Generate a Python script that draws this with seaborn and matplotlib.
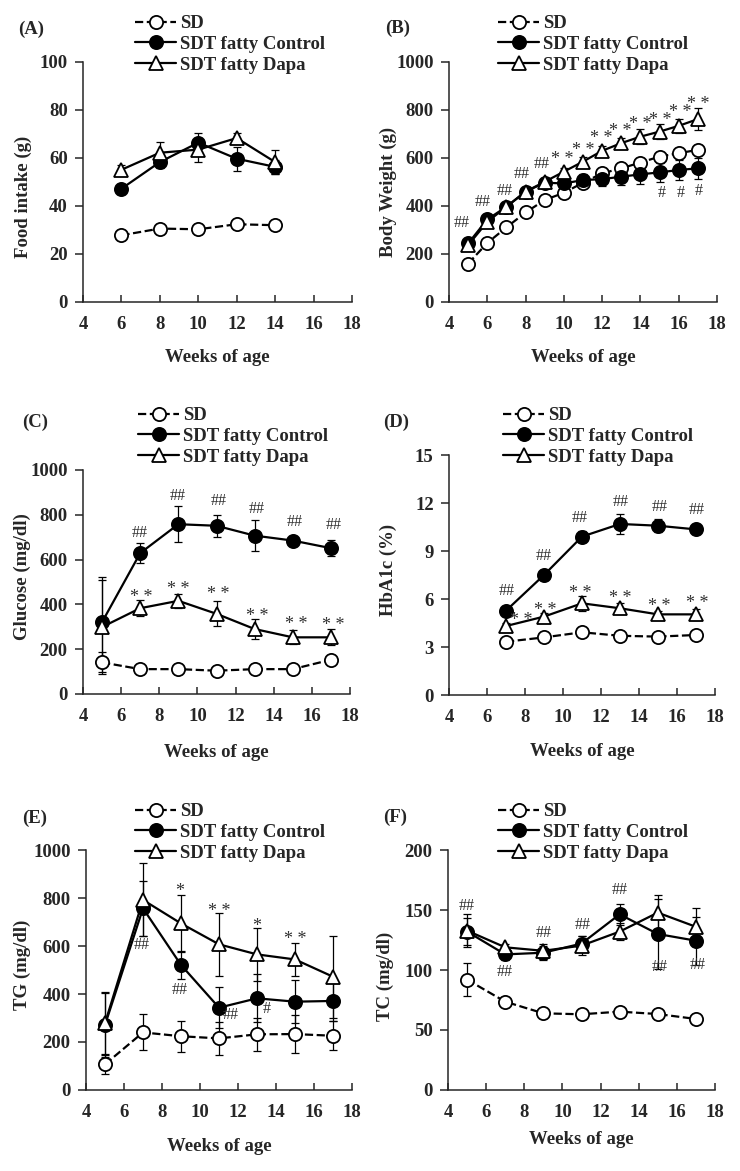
import numpy as np
import pandas as pd
import matplotlib
matplotlib.use("Agg")
import matplotlib.pyplot as plt
import seaborn as sns

# ---------------- data ----------------
groups = ["SD", "SDT fatty Control", "SDT fatty Dapa"]

# (A) Food intake
weeks_a = [6, 8, 10, 12, 14]
food_sd = [27.8, 30.6, 30.3, 32.4, 32.0]
food_ctl = [47.2, 58.3, 66.4, 59.7, 56.3]
food_dapa = [55.1, 62.2, 63.5, 68.3, 58.3]
food_sd_err = [1.5, 1.5, 2, 1.5, 1.5]
food_ctl_err = [2, 2.5, 4, 5, 3]
food_dapa_err = [2, 4.5, 5, 2, 5]

# (B) Body weight
weeks_b = list(range(5, 18))
bw_sd = [160, 246, 311, 373, 425, 455, 497, 536, 557, 581, 606, 620, 634]
bw_ctl = [244, 344, 397, 460, 497, 494, 508, 512, 522, 532, 540, 550, 557]
bw_dapa = [237, 334, 397, 460, 501, 543, 585, 630, 662, 689, 710, 734, 762]
bw_sd_err = [10, 12, 12, 12, 15, 15, 15, 15, 15, 15, 15, 15, 20]
bw_ctl_err = [15, 15, 15, 15, 15, 20, 25, 30, 35, 40, 40, 40, 45]
bw_dapa_err = [10, 12, 12, 15, 15, 15, 20, 20, 20, 30, 30, 30, 45]

# (C) Glucose
weeks_c = [5, 7, 9, 11, 13, 15, 17]
glu_sd = [141, 111, 111, 104, 111, 111, 153]
glu_ctl = [321, 629, 758, 751, 707, 685, 651]
glu_dapa = [299, 383, 416, 358, 290, 253, 253]
glu_sd_err = [45, 15, 12, 10, 12, 12, 15]
glu_ctl_err = [200, 45, 80, 50, 70, 15, 35]
glu_dapa_err = [210, 37, 32, 55, 45, 32, 35]

# (D) HbA1c
weeks_d = [7, 9, 11, 13, 15, 17]
hba_sd = [3.33, 3.6, 3.92, 3.7, 3.65, 3.75]
hba_ctl = [5.27, 7.5, 9.9, 10.69, 10.58, 10.35]
hba_dapa = [4.31, 4.9, 5.73, 5.42, 5.04, 5.04]
hba_sd_err = [0.1, 0.1, 0.15, 0.1, 0.1, 0.1]
hba_ctl_err = [0.2, 0.2, 0.35, 0.6, 0.4, 0.3]
hba_dapa_err = [0.2, 0.2, 0.45, 0.35, 0.2, 0.35]

# (E) TG
weeks_e = [5, 7, 9, 11, 13, 15, 17]
tg_sd = [107, 240, 224, 215, 232, 233, 226]
tg_ctl = [271, 757, 521, 343, 382, 368, 371]
tg_dapa = [278, 792, 694, 607, 565, 544, 472]
tg_sd_err = [40, 75, 65, 70, 70, 80, 60]
tg_ctl_err = [135, 115, 60, 85, 100, 90, 85]
tg_dapa_err = [130, 152, 120, 130, 110, 70, 170]

# (F) TC
weeks_f = [5, 7, 9, 11, 13, 15, 17]
tc_sd = [92, 73.6, 63.9, 63.1, 65.3, 63.3, 59.2]
tc_ctl = [132, 113, 114.4, 122, 146.4, 130, 124.4]
tc_dapa = [132.8, 118.9, 116, 120.3, 132, 147.8, 136]
tc_sd_err = [14, 3, 3, 3, 3, 3, 3]
tc_ctl_err = [11, 5, 6, 6, 9, 29, 20]
tc_dapa_err = [14, 3, 6, 8, 7, 15, 16]

# significance annotations: (text, x, y)
ann_b = [("##", 4.65, 330), ("##", 5.78, 415), ("##", 6.9, 464), ("##", 7.8, 533), ("##", 8.83, 574),
         ("**", 9.93, 622), ("**", 11.0, 662), ("**", 11.94, 710), ("**", 12.97, 738),
         ("**", 13.98, 769), ("**", 15.03, 787), ("**", 16.08, 818), ("**", 17.04, 850),
         ("#", 15.1, 455), ("#", 16.08, 455), ("#", 17.04, 462)]
ann_c = [("##", 6.98, 719), ("##", 8.96, 884), ("##", 11.12, 862), ("##", 13.09, 825),
         ("##", 15.1, 770), ("##", 17.12, 755),
         ("**", 7.04, 461), ("**", 9.02, 498), ("**", 11.07, 477), ("**", 13.14, 376),
         ("**", 15.16, 342), ("**", 17.12, 339)]
ann_d = [("##", 7.02, 6.5), ("##", 8.96, 8.7), ("##", 10.89, 11.08), ("##", 13.03, 12.08),
         ("##", 15.07, 11.77), ("##", 17.04, 11.56),
         ("**", 7.81, 5.06), ("**", 9.04, 5.73), ("**", 10.92, 6.77), ("**", 13.0, 6.46),
         ("**", 15.04, 5.94), ("**", 17.08, 6.15)]
ann_e = [("##", 6.93, 604), ("##", 8.95, 417), ("##", 11.59, 312), ("#", 13.49, 336),
         ("*", 8.95, 858), ("**", 11.01, 771), ("*", 12.99, 711), ("**", 15.0, 656)]
ann_f = [("##", 5.0, 153), ("##", 6.98, 98.6), ("##", 9.02, 131), ("##", 11.04, 137.5),
         ("##", 13.01, 166.7), ("##", 15.11, 102.8), ("##", 17.07, 104)]

# ---------------- style ----------------
sns.set_style("ticks")
plt.rcParams["font.family"] = ["Liberation Serif", "DejaVu Serif"]
plt.rcParams["font.weight"] = "bold"
plt.rcParams["axes.labelweight"] = "bold"

W, H = 740, 1171
fig = plt.figure(figsize=(W / 100, H / 100), dpi=100)

FS = 13.5

# panel specs: pixel boxes (left, top, right, bottom)
panels = [
    dict(tag="(A)", box=(83, 62, 352, 302), ylim=(0, 100), yticks=np.arange(0, 101, 20),
         ylabel="Food intake (g)", weeks=weeks_a,
         series=[(food_sd, food_sd_err), (food_ctl, food_ctl_err), (food_dapa, food_dapa_err)],
         ann=[], tagpos=(18, 29), leg=(135, 21), ylab=(23, 197), xlab=358),
    dict(tag="(B)", box=(449, 62, 717, 302), ylim=(0, 1000), yticks=np.arange(0, 1001, 200),
         ylabel="Body Weight (g)", weeks=weeks_b,
         series=[(bw_sd, bw_sd_err), (bw_ctl, bw_ctl_err), (bw_dapa, bw_dapa_err)],
         ann=ann_b, tagpos=(385, 28), leg=(498, 21), ylab=(388, 192), xlab=358),
    dict(tag="(C)", box=(83, 470, 350, 694), ylim=(0, 1000), yticks=np.arange(0, 1001, 200),
         ylabel="Glucose (mg/dl)", weeks=weeks_c,
         series=[(glu_sd, glu_sd_err), (glu_ctl, glu_ctl_err), (glu_dapa, glu_dapa_err)],
         ann=ann_c, tagpos=(22, 422), leg=(138, 413), ylab=(22, 577), xlab=753),
    dict(tag="(D)", box=(449, 455, 715, 695), ylim=(0, 15), yticks=np.arange(0, 16, 3),
         ylabel="HbA1c (%)", weeks=weeks_d,
         series=[(hba_sd, hba_sd_err), (hba_ctl, hba_ctl_err), (hba_dapa, hba_dapa_err)],
         ann=ann_d, tagpos=(383, 422), leg=(503, 413), ylab=(388, 570), xlab=752),
    dict(tag="(E)", box=(86, 850, 352, 1090), ylim=(0, 1000), yticks=np.arange(0, 1001, 200),
         ylabel="TG (mg/dl)", weeks=weeks_e,
         series=[(tg_sd, tg_sd_err), (tg_ctl, tg_ctl_err), (tg_dapa, tg_dapa_err)],
         ann=ann_e, tagpos=(22, 818), leg=(135, 809), ylab=(22, 965), xlab=1147),
    dict(tag="(F)", box=(448, 850, 715, 1090), ylim=(0, 200), yticks=np.arange(0, 201, 50),
         ylabel="TC (mg/dl)", weeks=weeks_f,
         series=[(tc_sd, tc_sd_err), (tc_ctl, tc_ctl_err), (tc_dapa, tc_dapa_err)],
         ann=ann_f, tagpos=(383, 817), leg=(498, 809), ylab=(385, 976), xlab=1140),
]

styles = {
    "SD": dict(marker="o", markerfacecolor="white", linestyle="--", ms=9.5),
    "SDT fatty Control": dict(marker="o", markerfacecolor="black", linestyle="-", ms=9.5),
    "SDT fatty Dapa": dict(marker="^", markerfacecolor="white", linestyle="-", ms=10),
}

for p in panels:
    l, t, r, b = p["box"]
    ax = fig.add_axes([l / W, 1 - b / H, (r - l) / W, (b - t) / H])
    rows = []
    for g, (vals, errs) in zip(groups, p["series"]):
        for wk, v, e in zip(p["weeks"], vals, errs):
            rows.append(dict(group=g, week=wk, value=v, err=e))
    df = pd.DataFrame(rows)
    for zi, g in enumerate(groups):
        sub = df[df["group"] == g]
        ax.errorbar(sub["week"], sub["value"], yerr=sub["err"], fmt="none",
                    ecolor="black", elinewidth=0.9, capsize=3, capthick=0.9, zorder=2)
    for zi, g in enumerate(groups):
        sub = df[df["group"] == g]
        st = styles[g]
        sns.lineplot(data=sub, x="week", y="value", ax=ax, color="black", label=g,
                     marker=st["marker"], markerfacecolor=st["markerfacecolor"],
                     markeredgecolor="black", markeredgewidth=1.3, markersize=st["ms"],
                     linestyle=st["linestyle"], linewidth=1.6, zorder=3 + zi,
                     errorbar=None, legend=False)
    ax.set_xlim(4, 18)
    ax.set_ylim(*p["ylim"])
    ax.set_xticks(np.arange(4, 19, 2))
    ax.set_yticks(p["yticks"])
    ax.tick_params(axis="x", direction="in", length=5, width=1.1, pad=10, labelsize=FS)
    ax.tick_params(axis="y", direction="out", length=6, width=1.1, pad=5, labelsize=FS)
    for lab in ax.get_xticklabels() + ax.get_yticklabels():
        lab.set_fontweight("bold")
    sns.despine(ax=ax)
    for s in ("left", "bottom"):
        ax.spines[s].set_linewidth(1.1)
    ax.set_xlabel("Weeks of age", fontsize=FS, fontweight="bold")
    ax.set_ylabel(p["ylabel"], fontsize=FS, fontweight="bold")
    ax.xaxis.set_label_coords(0.5, -(p["xlab"] - 9 - b) / (b - t))
    ax.yaxis.set_label_coords(-(l - p["ylab"][0] - 9) / (r - l), (b - p["ylab"][1]) / (b - t))

    for txt, x, y in p["ann"]:
        star = "*" in txt
        shown = txt.replace("**", "* *")
        ax.annotate(shown, (x, y), xytext=(0, -5 if star else 0), textcoords="offset points",
                    ha="center", va="center", fontsize=13 if star else 11.5,
                    fontweight="normal", color="#303030", zorder=6)

    lx, ly = p["leg"]
    handles, labels = ax.get_legend_handles_labels()
    ax.legend(handles, labels, loc="upper left", bbox_to_anchor=(lx / W, 1 - (ly - 6) / H),
              bbox_transform=fig.transFigure, frameon=False,
              handlelength=2.2, handletextpad=0.2, labelspacing=0.2, borderpad=0,
              borderaxespad=0, prop=dict(weight="bold", size=FS))
    fig.text(p["tagpos"][0] / W, 1 - p["tagpos"][1] / H, p["tag"], ha="left", va="center",
             fontsize=FS, fontweight="bold")

fig.savefig("out.png", dpi=100)
